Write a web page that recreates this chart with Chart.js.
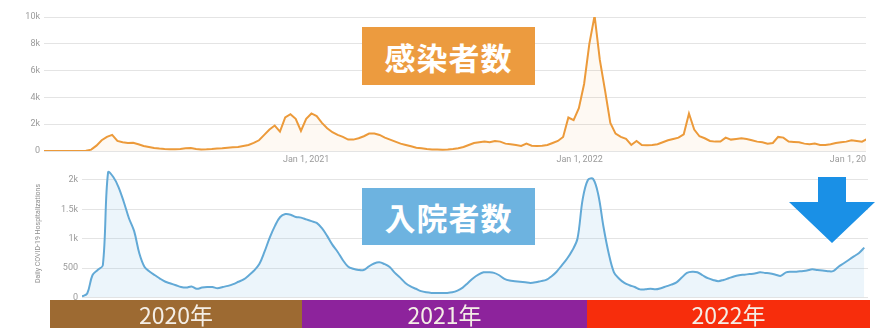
<!DOCTYPE html>
<html>
<head>
<meta charset="utf-8">
<script src="https://cdn.jsdelivr.net/npm/chart.js@4.4.1/dist/chart.umd.min.js"></script>
<style>
  html, body { margin: 0; padding: 0; background: #fff; }
  #page { position: relative; width: 885px; height: 333px; overflow: hidden; }
  #casesClip { position: absolute; left: 0; top: 0; width: 866px; height: 170px; overflow: hidden; }
  #casesWrap { position: relative; width: 885px; height: 170px; }
  #hospWrap { position: absolute; left: 0; top: 160px; width: 885px; height: 147px; }
  .tag {
    position: absolute; display: flex; align-items: center; justify-content: center;
    color: #fff; font-family: "Noto Sans CJK JP", sans-serif; font-size: 31px; font-weight: 700;
    letter-spacing: 1px;
  }
  .year {
    position: absolute; top: 300px; height: 28px; display: flex; align-items: center; justify-content: center;
    color: #f4eee6; font-family: "Noto Sans CJK JP", sans-serif; font-size: 23px; font-weight: 400;
  }
  #arrow { position: absolute; left: 0; top: 0; }
</style>
</head>
<body>
<div id="page">
  <div id="casesClip"><div id="casesWrap"><canvas id="casesChart"></canvas></div></div>
  <div id="hospWrap"><canvas id="hospChart"></canvas></div>

  <div class="tag" style="left:362px; top:27px; width:173px; height:58px; background:#ec9b3f;">感染者数</div>
  <div class="tag" style="left:362px; top:188px; width:173px; height:57px; background:#6db3e0;">入院者数</div>

  <div class="year" style="left:50px; width:252px; background:#9d6a32;">2020年</div>
  <div class="year" style="left:302px; width:285px; background:#8d239c;">2021年</div>
  <div class="year" style="left:587px; width:283px; background:#f72d0c;">2022年</div>

  <svg id="arrow" width="885" height="333">
    <polygon points="818,177 846,177 846,202 875,202 832,243 789,202 818,202" fill="#1a90e6"/>
  </svg>
</div>

<script>
// Daily cases, 7-day average (weekly samples), first sample on day 16 of 2020
const caseStartDay = 16;
const caseValues = [
  0, 0, 0, 0, 0, 0, 0, 0, 20, 100,
  400, 800, 1050, 1200, 750, 650, 600, 620, 500, 380,
  300, 220, 180, 150, 130, 130, 150, 200, 220, 150,
  120, 130, 150, 180, 200, 250, 280, 300, 380, 450,
  600, 800, 1200, 1600, 1900, 1450, 2500, 2750, 2400, 1500,
  2400, 2800, 2600, 2100, 1700, 1400, 1200, 1050, 850, 850,
  950, 1100, 1300, 1300, 1200, 1000, 850, 700, 550, 450,
  350, 250, 200, 150, 120, 120, 100, 120, 150, 200,
  300, 450, 600, 650, 700, 650, 750, 700, 550, 500,
  450, 380, 550, 400, 380, 400, 450, 600, 750, 1050,
  2500, 2300, 3200, 5000, 8000, 10100, 6800, 4500, 2100, 1300,
  1050, 900, 450, 750, 450, 420, 440, 500, 650, 800,
  900, 1000, 1250, 2800, 1600, 1100, 950, 750, 700, 700,
  1000, 850, 900, 950, 900, 800, 700, 650, 550, 600,
  1050, 1000, 700, 680, 650, 550, 500, 550, 450, 450,
  500, 600, 650, 700, 800, 750, 700, 900
];
const caseTickDays = [366, 731, 1096];
const caseTickLabels = ["Jan 1, 2021", "Jan 1, 2022", "Jan 1, 2023"];
const caseTickValues = [0, 2000, 4000, 6000, 8000, 10000];

// Daily hospitalizations (weekly samples), first sample on day 67 of 2020
const hospStartDay = 67;
const hospValues = [
  20, 70, 380, 470, 550, 2130, 2050, 1880, 1630, 1350,
  1130, 750, 520, 440, 380, 320, 270, 240, 210, 180,
  170, 190, 150, 170, 180, 180, 160, 180, 200, 230,
  270, 310, 380, 460, 570, 780, 1020, 1220, 1370, 1420,
  1410, 1370, 1360, 1330, 1300, 1270, 1180, 1050, 900, 780,
  640, 530, 490, 470, 470, 530, 580, 600, 570, 520,
  420, 340, 250, 190, 150, 110, 90, 80, 80, 80,
  80, 90, 120, 170, 250, 330, 390, 430, 430, 420,
  380, 320, 290, 280, 270, 260, 250, 260, 280, 300,
  360, 440, 550, 660, 800, 1000, 1670, 2000, 2020, 1750,
  1200, 750, 430, 320, 250, 210, 180, 140, 140, 150,
  140, 160, 190, 220, 260, 340, 420, 440, 430, 380,
  330, 300, 280, 300, 330, 360, 380, 390, 400, 410,
  430, 420, 410, 390, 370, 430, 440, 440, 450, 460,
  480, 470, 460, 450, 450, 520, 580, 640, 700, 760,
  850
];
const hospTickValues = [0, 500, 1000, 1500, 2000];

const tickFont = { family: "Roboto, 'Liberation Sans', sans-serif", size: 9 };
const tickColor = "#9b9b9b";

function toPoints(startDay, values) {
  return values.map((v, i) => ({ x: startDay + i * 7, y: v }));
}

function kLabel(value) {
  if (value === 0) return "0";
  if (value < 1000) return String(value);
  return value / 1000 + "k";
}

function renderCasesChart() {
  const ctx = document.getElementById("casesChart").getContext("2d");
  new Chart(ctx, {
    type: "line",
    data: {
      datasets: [
        {
          data: toPoints(caseStartDay, caseValues),
          borderColor: "#ec9a3a",
          backgroundColor: "rgba(240, 165, 80, 0.07)",
          borderWidth: 2,
          pointRadius: 0,
          tension: 0,
          fill: "origin",
        },
      ],
    },
    options: {
      responsive: true,
      maintainAspectRatio: false,
      animation: false,
      layout: { padding: { top: 17, right: 11, bottom: 0, left: 0 } },
      plugins: { legend: { display: false }, tooltip: { enabled: false } },
      scales: {
        x: {
          type: "linear",
          min: 16,
          max: 1124,
          grid: { display: false, drawTicks: false },
          border: { display: false },
          afterBuildTicks: (scale) => {
            scale.ticks = caseTickDays.map((d) => ({ value: d }));
          },
          afterFit: (scale) => {
            scale.height = 19;
          },
          ticks: {
            font: tickFont,
            color: tickColor,
            maxRotation: 0,
            autoSkip: false,
            padding: 3,
            callback: (value) => caseTickLabels[caseTickDays.indexOf(value)],
          },
        },
        y: {
          min: 0,
          max: 10000,
          grid: { color: "#e4e4e4", drawTicks: false },
          border: { display: false },
          afterBuildTicks: (scale) => {
            scale.ticks = caseTickValues.map((v) => ({ value: v }));
          },
          afterFit: (scale) => {
            scale.width = 44;
          },
          ticks: { font: tickFont, color: tickColor, padding: 4, callback: kLabel },
        },
      },
    },
  });
}

function renderHospChart() {
  const ctx = document.getElementById("hospChart").getContext("2d");
  new Chart(ctx, {
    type: "line",
    data: {
      datasets: [
        {
          data: toPoints(hospStartDay, hospValues),
          borderColor: "#62a9d6",
          backgroundColor: "rgba(130, 185, 225, 0.15)",
          borderWidth: 2,
          pointRadius: 0,
          tension: 0.35,
          fill: "origin",
        },
      ],
    },
    options: {
      responsive: true,
      maintainAspectRatio: false,
      animation: false,
      layout: { padding: { top: 0, right: 17, bottom: 0, left: 0 } },
      plugins: { legend: { display: false }, tooltip: { enabled: false } },
      scales: {
        x: {
          type: "linear",
          min: 67,
          max: 1122,
          display: false,
        },
        y: {
          min: 0,
          max: 2180,
          grid: { color: "#e4e4e4", drawTicks: false },
          border: { display: false },
          afterBuildTicks: (scale) => {
            scale.ticks = hospTickValues.map((v) => ({ value: v }));
          },
          afterFit: (scale) => {
            scale.width = 82;
          },
          ticks: { font: tickFont, color: tickColor, padding: 4, callback: kLabel },
          title: {
            display: true,
            text: "Daily COVID-19 Hospitalizations",
            color: "#8f8f8f",
            font: { family: "Roboto, sans-serif", size: 7 },
            padding: { top: 34, bottom: 0 },
          },
        },
      },
    },
  });
}

renderCasesChart();
renderHospChart();
</script>
</body>
</html>
